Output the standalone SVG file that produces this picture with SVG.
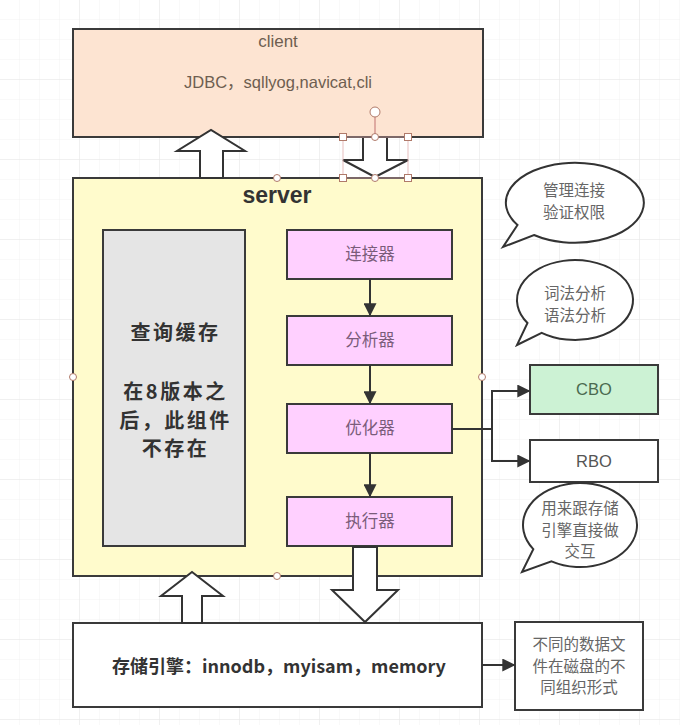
<svg xmlns="http://www.w3.org/2000/svg" width="680" height="725" viewBox="0 0 680 725">
<defs>
<pattern id="gridMinor" width="20" height="20" patternUnits="userSpaceOnUse">
<path d="M20 0 V20 M0 20 H20" fill="none" stroke="#f2f2f2" stroke-width="1"/>
</pattern>
<pattern id="gridMajor" width="80" height="80" patternUnits="userSpaceOnUse">
<rect width="80" height="80" fill="url(#gridMinor)"/>
<path d="M80 0 V80 M0 80 H80" fill="none" stroke="#e8e8e8" stroke-width="1"/>
</pattern>
<marker id="arr" viewBox="0 0 10 10" refX="9" refY="5" markerWidth="6.5" markerHeight="6.5" orient="auto">
<path d="M0 0 L10 5 L0 10 z" fill="#333"/>
</marker>
</defs>
<style>
.box{stroke:#3a3a3a;stroke-width:2}
.cn{font-family:"Noto Sans CJK SC","Liberation Sans",sans-serif}
.lat{font-family:"Liberation Sans","Noto Sans CJK SC",sans-serif}
.pink{fill:#ffd0ff}
.ptxt{font-size:16.5px;fill:#7a5c7a;text-anchor:middle}
.btxt{font-size:15.5px;fill:#666;text-anchor:middle}
.qc{font-size:20px;letter-spacing:2.5px;font-weight:bold;fill:#333;text-anchor:middle}
.bubble{fill:#fff;stroke:#333;stroke-width:2}
.line{fill:none;stroke:#333;stroke-width:2}
.blk{fill:#fff;stroke:#333;stroke-width:2;stroke-linejoin:miter}
.hdl{fill:#fff;stroke:#b07a6a;stroke-width:1}
</style>
<rect width="680" height="725" fill="#fff"/>
<rect width="680" height="725" fill="url(#gridMajor)"/>

<g id="client">
<rect class="box" x="73" y="29" width="410" height="108" fill="#fde4d2"/>
<text class="lat" x="278" y="47" font-size="17" fill="#6e5e50" text-anchor="middle">client</text>
<text class="lat" x="278" y="88" font-size="16.5" fill="#6e5e50" text-anchor="middle">JDBC，sqllyog,navicat,cli</text>
</g>

<g id="server">
<rect class="box" x="73" y="178" width="409" height="398" fill="#fffbcc"/>
<text class="lat" x="277" y="203" font-size="23" font-weight="bold" fill="#333" text-anchor="middle">server</text>
</g>

<g id="query-cache">
<rect class="box" x="103" y="230" width="142" height="316" fill="#e5e5e5"/>
<text class="cn qc" x="175.5" y="340">查询缓存</text>
<text class="cn qc" x="175.5" y="399">在8版本之</text>
<text class="cn qc" x="175.5" y="427.5">后，此组件</text>
<text class="cn qc" x="175.5" y="456">不存在</text>
</g>

<g id="connector">
<rect class="box pink" x="287" y="230" width="165" height="49"/>
<text class="cn ptxt" x="370" y="260">连接器</text>
</g>
<g id="analyzer">
<rect class="box pink" x="287" y="316" width="165" height="49"/>
<text class="cn ptxt" x="370" y="346">分析器</text>
</g>
<g id="optimizer">
<rect class="box pink" x="287" y="404" width="165" height="49"/>
<text class="cn ptxt" x="370" y="434">优化器</text>
</g>
<g id="executor">
<rect class="box pink" x="287" y="497" width="165" height="49"/>
<text class="cn ptxt" x="370" y="527">执行器</text>
</g>

<g id="cbo">
<rect class="box" x="530" y="365" width="128" height="49" fill="#ccf2d4"/>
<text class="lat" x="594" y="395" font-size="16.5" fill="#4a6a50" text-anchor="middle">CBO</text>
</g>
<g id="rbo">
<rect class="box" x="530" y="440" width="128" height="42" fill="#fff"/>
<text class="lat" x="594" y="467" font-size="16.5" fill="#555" text-anchor="middle">RBO</text>
</g>

<g id="storage">
<rect class="box" x="73" y="623" width="409" height="84" fill="#fff"/>
<text class="cn" x="279" y="673" font-size="18" font-weight="bold" fill="#333" text-anchor="middle">存储引擎：innodb，myisam，memory</text>
</g>

<g id="disk-note">
<rect class="box" x="515" y="622" width="128" height="88" fill="#fff"/>
<text class="cn btxt" x="579" y="650">不同的数据文</text>
<text class="cn btxt" x="579" y="671.5">件在磁盘的不</text>
<text class="cn btxt" x="579" y="693">同组织形式</text>
</g>

<g id="bubble-connect">
<path class="bubble" d="M534,235 A69 40 0 1 0 517.5,225 L503,247 Z"/>
<text class="cn btxt" x="574" y="196">管理连接</text>
<text class="cn btxt" x="574" y="218">验证权限</text>
</g>
<g id="bubble-parse">
<path class="bubble" d="M541.7,332.8 A58 40 0 1 0 527.5,323 L517,345 Z"/>
<text class="cn btxt" x="575" y="299">词法分析</text>
<text class="cn btxt" x="575" y="320.5">语法分析</text>
</g>
<g id="bubble-exec">
<path class="bubble" d="M551.5,561.4 A57 42 0 1 0 533.3,549.1 L522,572 Z"/>
<text class="cn btxt" x="580" y="514">用来跟存储</text>
<text class="cn btxt" x="580" y="535.5">引擎直接做</text>
<text class="cn btxt" x="580" y="557">交互</text>
</g>

<g id="connectors">
<polygon class="blk" points="200,178 200,151 177,151 211,130 245,151 223,151 223,178"/>
<polygon class="blk" points="363,137 387,137 387,160 408,160 375,177 343,160 363,160"/>
<polygon class="blk" points="182,623 182,596 161,596 192,572 223,596 202,596 202,623"/>
<polygon class="blk" points="353,547 377,547 377,590 398,590 365,622 332,590 353,590"/>
<line class="line" x1="370" y1="279" x2="370" y2="315" marker-end="url(#arr)"/>
<line class="line" x1="370" y1="365" x2="370" y2="403" marker-end="url(#arr)"/>
<line class="line" x1="370" y1="453" x2="370" y2="496" marker-end="url(#arr)"/>
<polyline class="line" points="452,429 492,429 492,391 529,391" marker-end="url(#arr)"/>
<polyline class="line" points="492,429 492,461 529,461" marker-end="url(#arr)"/>
<line class="line" x1="482" y1="665" x2="514" y2="665" marker-end="url(#arr)"/>
</g>

<g id="editor-handles">
<rect x="343" y="137" width="65" height="41" fill="none" stroke="#e0b0b0" stroke-width="0.8"/>
<line x1="375" y1="117" x2="375" y2="137" stroke="#c07070" stroke-width="1"/>
<circle class="hdl" cx="375" cy="112" r="5"/>
<rect class="hdl" x="339.5" y="133.5" width="7" height="7"/>
<rect class="hdl" x="404.5" y="133.5" width="7" height="7"/>
<rect class="hdl" x="339.5" y="174.5" width="7" height="7"/>
<rect class="hdl" x="404.5" y="174.5" width="7" height="7"/>
<circle class="hdl" cx="375" cy="137" r="3.5"/>
<circle class="hdl" cx="375" cy="178" r="3.5"/>
<circle class="hdl" cx="277" cy="178" r="3.5"/>
<circle class="hdl" cx="73" cy="377" r="3.5"/>
<circle class="hdl" cx="482" cy="377" r="3.5"/>
<circle class="hdl" cx="277" cy="576" r="3.5"/>
</g>
</svg>
